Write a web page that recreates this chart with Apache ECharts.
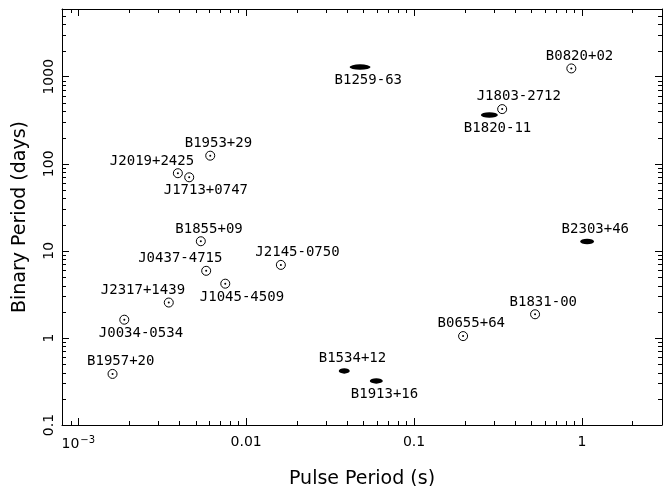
<!DOCTYPE html>
<html>
<head>
<meta charset="utf-8">
<script src="https://cdn.jsdelivr.net/npm/echarts@6/dist/echarts.min.js"></script>
<style>
  html, body { margin: 0; padding: 0; background: #fff; }
  #chart { width: 663px; height: 486px; }
</style>
</head>
<body>
<div id="chart"></div>
<script>
// binary pulsars: pulse period (s) vs binary period (days)
// white-dwarf companions (circle with dot)
var wdNames = ["B1953+29", "J2019+2425", "J1713+0747", "B1855+09", "J0437-4715",
  "J1045-4509", "J2317+1439", "J0034-0534", "B1957+20", "B0820+02",
  "J1803-2712", "J2145-0750", "B1831-00", "B0655+64"];
var wdPulse = [0.00611, 0.00392, 0.00458, 0.00537, 0.00578,
  0.00751, 0.00346, 0.00188, 0.0016, 0.865,
  0.335, 0.0161, 0.526, 0.196];
var wdBinary = [124, 78, 70, 12.9, 5.9,
  4.2, 2.55, 1.62, 0.386, 1246,
  425, 6.9, 1.87, 1.05];

// neutron-star / massive companions (filled ellipses)
var nsNames = ["B1259-63", "B1820-11", "B2303+46", "B1534+12", "B1913+16"];
var nsPulse = [0.0477, 0.281, 1.074, 0.0384, 0.0596];
var nsBinary = [1290, 363, 12.8, 0.418, 0.321];

var xTicks = [0.001, 0.01, 0.1, 1];
var yTicks = [0.1, 1, 10, 100, 1000];

// style: ellipse widths and label placement (a = above, b = below, l = above, to the left)
var ellipseW = { "B1259-63": 21, "B1820-11": 17, "B2303+46": 14, "B1534+12": 11, "B1913+16": 13 };
var place = {
  "J2019+2425": "l", "J0437-4715": "l", "J2317+1439": "l",
  "J1713+0747": "b", "J1045-4509": "b", "J0034-0534": "b",
  "B1259-63": "b", "B1820-11": "b", "B1913+16": "b"
};

var xMin = 0.0008, xMax = 3, yMin = 0.1, yMax = 6000;

var chart = echarts.init(document.getElementById("chart"));

function isTick(list, v) {
  for (var i = 0; i < list.length; i++) {
    if (Math.abs(v - list[i]) < list[i] * 1e-6) return true;
  }
  return false;
}

function pointLabel(name) {
  var p = place[name] || "a";
  return {
    show: true,
    position: ["50%", "50%"],
    align: "left",
    verticalAlign: "middle",
    offset: [p === "l" ? -68 : -25.5, p === "b" ? 13.5 : -12.3],
    color: "#000",
    textBorderWidth: 0,
    fontFamily: "DejaVu Sans Mono",
    fontSize: 14,
    formatter: "{b}"
  };
}

var wdData = wdNames.map(function (n, i) {
  return { name: n, value: [wdPulse[i], wdBinary[i]], label: pointLabel(n) };
});
var wdDots = wdNames.map(function (n, i) {
  return [wdPulse[i], wdBinary[i]];
});
var nsData = nsNames.map(function (n, i) {
  return { name: n, value: [nsPulse[i], nsBinary[i]], label: pointLabel(n), symbolSize: [ellipseW[n], 5.5] };
});

// minor tick positions (2..9 in each decade)
var xMinor = [], yMinor = [];
for (var k = -4; k <= 1; k++) {
  for (var m = 2; m <= 9; m++) {
    var v = m * Math.pow(10, k);
    if (v > xMin && v < xMax) xMinor.push([v, yMin]);
  }
}
for (var k2 = -1; k2 <= 3; k2++) {
  for (var m2 = 2; m2 <= 9; m2++) {
    var w = m2 * Math.pow(10, k2);
    if (w > yMin && w < yMax) yMinor.push([xMin, w]);
  }
}

function tickLine(x1, y1, x2, y2) {
  return { type: "line", shape: { x1: x1, y1: y1, x2: x2, y2: y2 }, style: { stroke: "#000", lineWidth: 1 } };
}

var tickFont = { color: "#000", fontFamily: "DejaVu Sans", fontSize: 14 };
var majorTick = { show: true, inside: true, length: 7, lineStyle: { color: "#000", width: 1 } };

var option = {
  animation: false,
  backgroundColor: "#fff",
  grid: { left: 62, right: 1, top: 9, bottom: 61, containLabel: false, outerBoundsMode: "none" },
  xAxis: [
    {
      type: "log", min: xMin, max: xMax, position: "bottom",
      name: "Pulse Period (s)", nameLocation: "middle", nameGap: 45,
      nameTextStyle: { color: "#000", fontFamily: "DejaVu Sans", fontSize: 19 },
      axisLine: { show: true, lineStyle: { color: "#000", width: 1 } },
      axisTick: majorTick,
      splitLine: { show: false },
      axisLabel: Object.assign({
        margin: 10,
        formatter: function (v) {
          if (!isTick(xTicks, v)) return "";
          if (Math.abs(v - 0.001) < 1e-9) return "{n|10}{s|−3}";
          return String(+v.toPrecision(3));
        },
        rich: {
          n: { fontFamily: "DejaVu Sans", fontSize: 14, color: "#000" },
          s: { fontFamily: "DejaVu Sans", fontSize: 10, color: "#000", verticalAlign: "bottom", padding: [0, 0, 8, 1] }
        }
      }, tickFont)
    },
    {
      type: "log", min: xMin, max: xMax, position: "top",
      axisLine: { show: true, lineStyle: { color: "#000", width: 1 } },
      axisTick: majorTick,
      axisLabel: { show: false },
      splitLine: { show: false }
    }
  ],
  yAxis: [
    {
      type: "log", min: yMin, max: yMax, position: "left",
      name: "Binary Period (days)", nameLocation: "middle", nameGap: 32,
      nameTextStyle: { color: "#000", fontFamily: "DejaVu Sans", fontSize: 19 },
      axisLine: { show: true, lineStyle: { color: "#000", width: 1 } },
      axisTick: majorTick,
      splitLine: { show: false },
      axisLabel: Object.assign({
        rotate: 90,
        margin: 6,
        formatter: function (v) {
          if (!isTick(yTicks, v)) return "";
          return String(+v.toPrecision(3));
        }
      }, tickFont)
    },
    {
      type: "log", min: yMin, max: yMax, position: "right",
      axisLine: { show: true, lineStyle: { color: "#000", width: 1 } },
      axisTick: majorTick,
      axisLabel: { show: false },
      splitLine: { show: false }
    }
  ],
  series: [
    {
      type: "custom",
      xAxisIndex: 0, yAxisIndex: 0,
      silent: true,
      renderItem: function (params, api) {
        var p = api.coord([api.value(0), yMin]);
        var cs = params.coordSys;
        var x = Math.round(p[0]) + 0.5;
        return { type: "group", children: [
          tickLine(x, cs.y + cs.height, x, cs.y + cs.height - 4),
          tickLine(x, cs.y, x, cs.y + 4)
        ] };
      },
      data: xMinor
    },
    {
      type: "custom",
      xAxisIndex: 0, yAxisIndex: 0,
      silent: true,
      renderItem: function (params, api) {
        var p = api.coord([xMin, api.value(1)]);
        var cs = params.coordSys;
        var y = Math.round(p[1]) + 0.5;
        return { type: "group", children: [
          tickLine(cs.x, y, cs.x + 4, y),
          tickLine(cs.x + cs.width, y, cs.x + cs.width - 4, y)
        ] };
      },
      data: yMinor
    },
    {
      name: "white dwarf",
      type: "scatter",
      symbol: "circle",
      symbolSize: 9,
      itemStyle: { color: "#fff", borderColor: "#000", borderWidth: 1, opacity: 1 },
      data: wdData
    },
    {
      name: "centre",
      type: "scatter",
      symbol: "circle",
      symbolSize: 2,
      itemStyle: { color: "#000", opacity: 1 },
      data: wdDots
    },
    {
      name: "neutron star",
      type: "scatter",
      symbol: "circle",
      itemStyle: { color: "#000", opacity: 1 },
      data: nsData
    }
  ]
};

chart.setOption(option);
</script>
</body>
</html>
